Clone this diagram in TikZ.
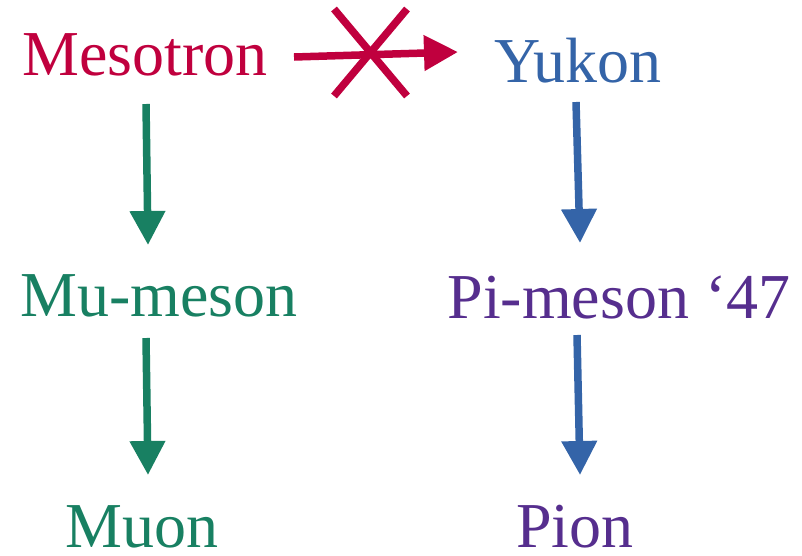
\documentclass[tikz,border=0pt]{standalone}
\usepackage{fontspec}
\setmainfont{Liberation Serif}
\usepackage{tikz}
\usetikzlibrary{arrows.meta}

\definecolor{mesored}{RGB}{192,0,62}
\definecolor{mugreen}{RGB}{24,128,98}
\definecolor{pionblue}{RGB}{52,100,168}
\definecolor{pipurple}{RGB}{86,46,142}

\tikzset{
  particle/.style={anchor=base,inner sep=0pt,text depth=0pt,font=\fontsize{64}{70}\selectfont},
  link/.style={line width=7.5pt,-{Triangle[length=34pt,width=34pt]}}
}

\begin{document}
\begin{tikzpicture}[x=1pt,y=-1pt]
		\useasboundingbox (0,0) rectangle (802,555);
		
		% Names
		\node[particle,mesored]  (meso)  at (145,75)  {Mesotron};
		\node[particle,pionblue] (yukon) at (578,82)  {Yukon};
		\node[particle,mugreen]  (mumes) at (159,316) {Mu-meson};
		\node[particle,pipurple] (pimes) at (619,318) {Pi-meson ‘47};
		\node[particle,mugreen]  (muon)  at (142,547) {Muon};
		\node[particle,pipurple] (pion)  at (575,547) {Pion};
		
		% Crossed-out arrow
		\draw[link,mesored] ([shift={(149,-18)}]meso.base) -- ([shift={(-120,-30)}]yukon.base);
		\draw[line width=7.5pt,mesored] (334,9) -- (407,96);
		\draw[line width=7.5pt,mesored] (407,9) -- (334,96);
		
		% Left column
		\draw[link,mugreen] ([shift={(1,29)}]meso.base) -- ([shift={(-11,-71)}]mumes.base);
		\draw[link,mugreen] ([shift={(-13,22)}]mumes.base) -- ([shift={(6,-72)}]muon.base);
		
		% Right column
		\draw[link,pionblue] ([shift={(-2,20)}]yukon.base) -- ([shift={(-39,-75)}]pimes.base);
		\draw[link,pionblue] ([shift={(-42,17)}]pimes.base) -- ([shift={(5,-72)}]pion.base);
	\end{tikzpicture}
\end{document}
